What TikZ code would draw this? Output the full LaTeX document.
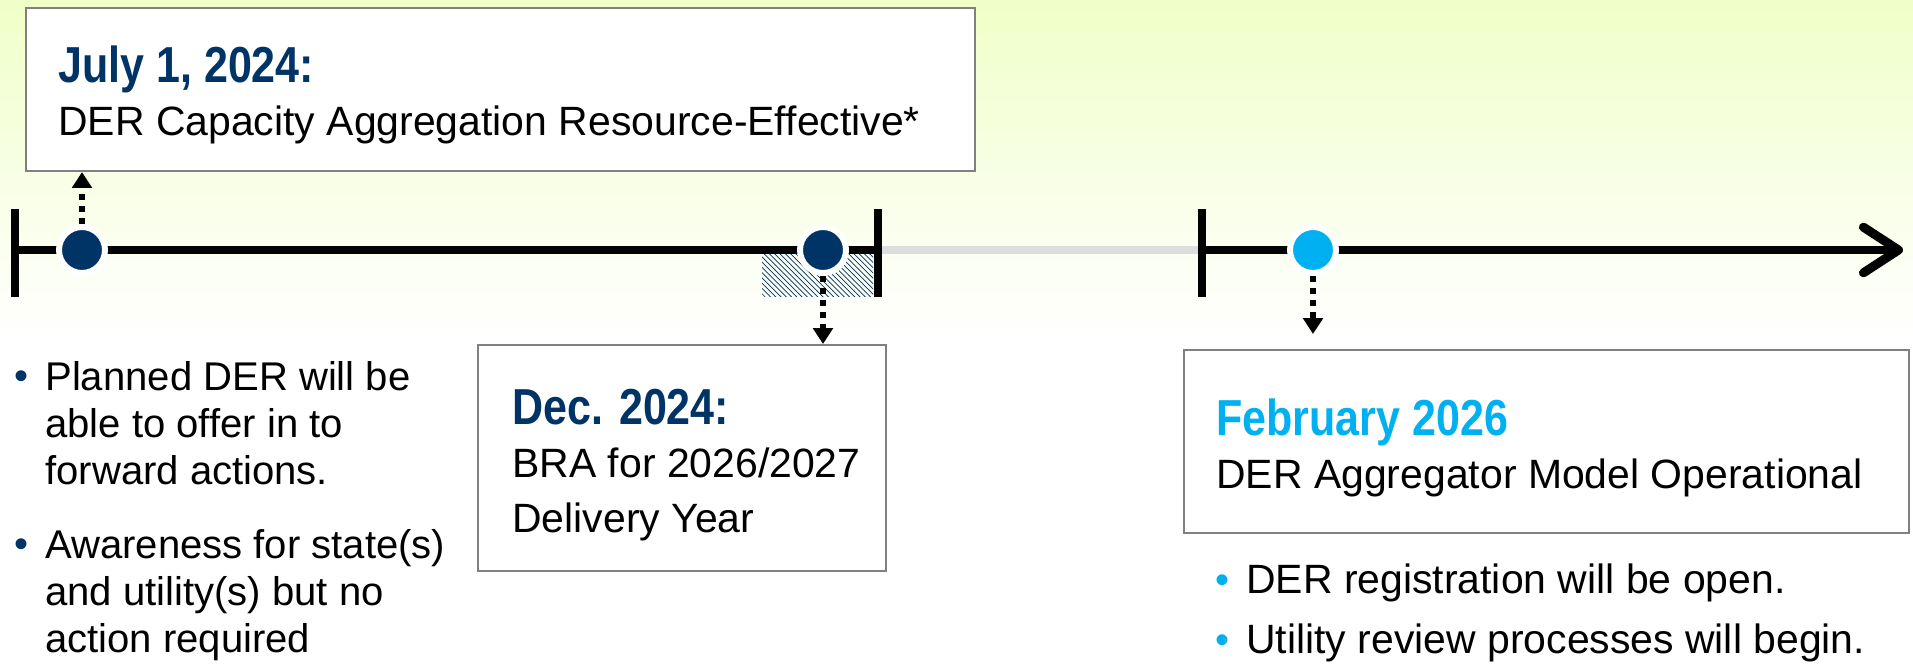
\documentclass[tikz,border=0pt]{standalone}
\usepackage{fontspec}
\setmainfont{Liberation Sans}
\newfontfamily\narrowfont[FakeStretch=0.85]{Liberation Sans}
\usetikzlibrary{arrows.meta,patterns}
\definecolor{navy}{RGB}{0,51,102}
\definecolor{skyblue}{RGB}{0,176,240}
\definecolor{lime}{RGB}{240,255,200}
\definecolor{boxgray}{RGB}{128,128,128}
\definecolor{railgray}{RGB}{221,221,221}

\begin{document}
\begin{tikzpicture}[x=0.02cm,y=-0.02cm,
	axis/.style={line width=5.1pt},
	dot/.style={circle,minimum size=0.92cm,inner sep=0,draw=white,line width=3.4pt},
	dotarrow/.style={line width=3.4pt,dash pattern=on 3.4pt off 3.4pt,-{Triangle[length=9pt,width=11pt]}},
	datebox/.style={draw=boxgray,line width=1.2pt,fill=white,anchor=north west,inner sep=0},
	head/.style={font=\narrowfont\bfseries\fontsize{28.8}{32}\selectfont,inner sep=0,anchor=base west},
	body/.style={font=\fontsize{23.3}{31.3}\selectfont,inner sep=0,anchor=base west,align=left},
	note/.style={font=\fontsize{22.8}{26.7}\selectfont,inner sep=0,anchor=base west,align=left},
	bul/.style={font=\fontsize{22.8}{26.7}\selectfont,inner sep=0,anchor=base},
	]
	\useasboundingbox (0,0) rectangle (1913,665);
	% background
	\fill[white] (0,0) rectangle (1913,665);
	\shade[top color=lime,bottom color=white] (0,0) rectangle (1913,340);

	% timeline
	\coordinate (t1) at (15,250);
	\coordinate (t2) at (878,250);
	\coordinate (t3) at (1202,250);
	\coordinate (tend) at (1903,250);
	\fill[pattern=north west lines,pattern color=navy] (762,253) rectangle (873,297);
	\draw[axis,railgray] (t2) -- (t3);
	\draw[axis] (t1) -- (t2);
	\draw[axis,-{Straight Barb[length=20pt,width=26pt,round]}] (t3) -- (tend);
	\draw[axis] (t1) ++(0,-41) -- ++(0,88);
	\draw[axis] (t2) ++(0,-41) -- ++(0,88);
	\draw[axis] (t3) ++(0,-41) -- ++(0,88);

	\node[dot,fill=navy] (d1) at (82,250) {};
	\node[dot,fill=navy] (d2) at (823,250) {};
	\node[dot,fill=skyblue] (d3) at (1313,250) {};

	% boxes
	\node[datebox,minimum width=18.98cm,minimum height=3.26cm] (box1) at (25,7) {};
	\node[datebox,minimum width=8.16cm,minimum height=4.52cm] (box2) at (477,344) {};
	\node[datebox,minimum width=14.5cm,minimum height=3.66cm] (box3) at (1183,349) {};

	\draw[dotarrow] (d1.north) -- (d1.north |- box1.south);
	\draw[dotarrow] (d2.south) -- (d2.south |- box2.north);
	\draw[dotarrow,shorten >=0.3cm] (d3.south) -- (d3.south |- box3.north);

	% box texts (multi-line nodes sit on their last line)
	\node[head,text=navy] (h1) at (58,83) {July 1, 2024:};
	\node[body] (b1) at (58,136) {DER Capacity Aggregation Resource-Effective*};
	\node[head,text=navy] (h2) at (512,424) {Dec. 2024:};
	\node[body] (b2) at (512,532) {BRA for 2026/2027\\Delivery Year};
	\node[head,text=skyblue] (h3) at (1216,436) {February 2026};
	\node[body] (b3) at (1216,488) {DER Aggregator Model Operational};

	% bullets
	\node[bul,text=navy] (p1) at (22,390) {•};
	\node[note] (n1) at (45,484) {Planned DER will be\\able to offer in to\\forward actions.};
	\node[bul,text=navy] (p2) at (22,557) {•};
	\node[note] (n2) at (45,652) {Awareness for state(s)\\and utility(s) but no\\action required};
	\node[bul,text=skyblue] (p3) at (1222,593) {•};
	\node[body] (n3) at (1246,593) {DER registration will be open.};
	\node[bul,text=skyblue] (p4) at (1222,653) {•};
	\node[body] (n4) at (1246,653) {Utility review processes will begin.};
\end{tikzpicture}
\end{document}
